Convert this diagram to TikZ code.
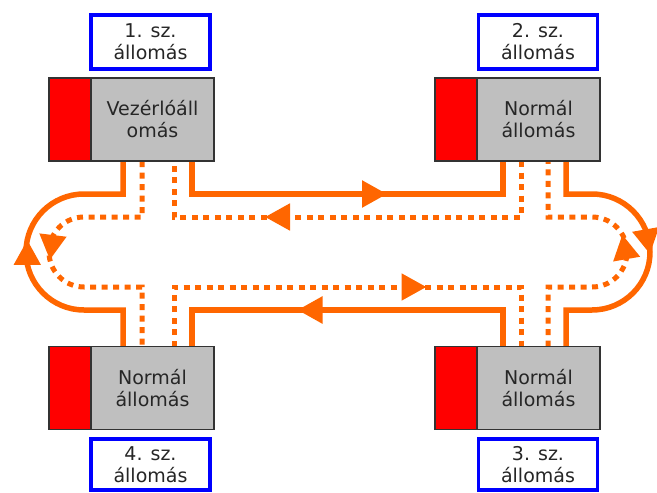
\documentclass[tikz,border=0pt]{standalone}
\usepackage{fontspec}
\setmainfont{DejaVu Sans}
\usetikzlibrary{arrows.meta,decorations.markings,backgrounds}

\definecolor{ringorange}{RGB}{255,102,0}
\definecolor{boxgray}{RGB}{191,191,191}
\definecolor{tagblue}{RGB}{0,0,255}
\definecolor{inkgray}{RGB}{38,38,38}

\begin{document}
\begin{tikzpicture}[x=1pt,y=-1pt,
  unit/.style={draw=black!80,line width=1.6pt,fill=boxgray,minimum width=123pt,
    minimum height=83pt,inner sep=0pt,outer sep=0pt,align=center,text=inkgray,
    font=\fontsize{19}{22}\selectfont},
  flag/.style={draw=black!80,line width=1.6pt,fill=red,minimum width=42pt,
    minimum height=83pt,inner sep=0pt,outer sep=0pt},
  tag/.style={draw=tagblue,line width=3.6pt,fill=white,minimum width=119pt,
    minimum height=54pt,inner sep=0pt,align=center,text=inkgray,
    font=\fontsize{19}{22}\selectfont},
  ring/.style={color=ringorange,line width=5.5pt},
  dotring/.style={color=ringorange,line width=5pt,dash pattern=on 6pt off 5.5pt},
  % arrowhead whose tip sits at the given distance along a straight run
  flow/.style={postaction={decorate},decoration={markings,
    mark=at position #1 with {\pgfsetdash{}{0pt}%
      \arrow{Triangle[length=25pt,width=26pt]}}}},
  % arrowhead laid on a bend of the ring
  bendtip/.style={color=ringorange,line width=5pt,-{Triangle[length=25pt,width=26pt]}}
]
\useasboundingbox (0,0) rectangle (657,493);

% station labels
\node[tag] (lb1) at (150.5,42) {1. sz.\\állomás};
\node[tag] (lb2) at (538,42) {2. sz.\\állomás};
\node[tag,minimum height=51pt] (lb3) at (538,464.5) {3. sz.\\állomás};
\node[tag,minimum height=51pt] (lb4) at (150.5,464.5) {4. sz.\\állomás};

% stations: grey body with a red strip on the left
\node[unit] (st1) at (152.5,119.5) {Vezérlóáll\\omás};
\node[flag,anchor=east] (fl1) at (st1.west) {};
\node[unit] (st2) at (538.5,119.5) {Normál\\állomás};
\node[flag,anchor=east] (fl2) at (st2.west) {};
\node[unit] (st3) at (538.5,388) {Normál\\állomás};
\node[flag,anchor=east] (fl3) at (st3.west) {};
\node[unit] (st4) at (152.5,388) {Normál\\állomás};
\node[flag,anchor=east] (fl4) at (st4.west) {};

% columns of the ring taps and rows of the ring
\coordinate (c1) at (123,0);
\coordinate (c2) at (142,0);
\coordinate (c3) at (174,0);
\coordinate (c4) at (192,0);
\coordinate (c5) at (503,0);
\coordinate (c6) at (521,0);
\coordinate (c7) at (548,0);
\coordinate (c8) at (566,0);
\coordinate (oT) at (0,194);
\coordinate (oB) at (0,310);
\coordinate (dT) at (0,217);
\coordinate (dB) at (0,287);
\coordinate (wL) at (84,0);
\coordinate (wR) at (592,0);
% centres of the two bends
\coordinate (ctrL) at (84,252);
\coordinate (ctrR) at (592,252);

\begin{scope}[on background layer]
% primary ring, clockwise
\draw[ring,flow=228pt] (st1.south -| c4) |- (c5 |- oT) -- (st2.south -| c5);
\draw[ring] (st2.south -| c8) |- (wR |- oT)
  arc[start angle=-90,end angle=90,radius=58] -- (c8 |- oB) -- (st3.north -| c8);
\draw[ring,flow=242pt] (st3.north -| c5) |- (c4 |- oB) -- (st4.north -| c4);
\draw[ring] (st4.north -| c1) |- (wL |- oB)
  arc[start angle=90,end angle=270,radius=58] -- (c1 |- oT) -- (st1.south -| c1);
% secondary ring, counter-clockwise
\draw[dotring] (st1.south -| c2) |- (wL |- dT)
  arc[start angle=270,end angle=90,radius=35] -- (c2 |- dB) -- (st4.north -| c2);
\draw[dotring,flow=312pt] (st4.north -| c3) |- (c6 |- dB) -- (st3.north -| c6);
\draw[dotring] (st3.north -| c7) |- (wR |- dB)
  arc[start angle=90,end angle=-90,radius=35] -- (c7 |- dT) -- (st2.south -| c7);
\draw[dotring,flow=312pt] (st2.south -| c6) |- (c3 |- dT) -- (st1.south -| c3);
% direction marks on the bends
\draw[bendtip] ([shift={(-22:58)}]ctrR) -- ([shift={(2:58)}]ctrR);
\draw[bendtip] ([shift={(168:58)}]ctrL) -- ([shift={(192:58)}]ctrL);
\draw[bendtip] ([shift={(207:35)}]ctrL) -- ([shift={(167:35)}]ctrL);
\draw[bendtip] ([shift={(10:35)}]ctrR) -- ([shift={(-30:35)}]ctrR);
\end{scope}
\end{tikzpicture}
\end{document}
